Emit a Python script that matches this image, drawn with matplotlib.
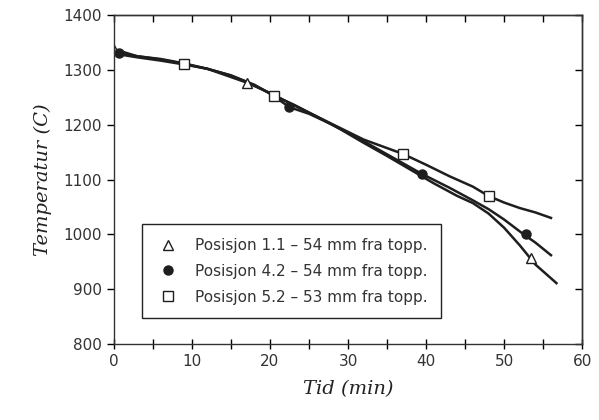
import matplotlib.pyplot as plt
from matplotlib.lines import Line2D

# Kurvedata
tid_11 = [0, 3, 6, 9, 12, 15, 17, 20, 23, 26, 29, 32, 35, 38, 41, 44, 46, 48, 50, 52, 54, 56.7]
temp_11 = [1338, 1325, 1320, 1312, 1302, 1287, 1277, 1258, 1236, 1215, 1192, 1167, 1143, 1118, 1093, 1070, 1057, 1038, 1012, 980, 945, 911]

tid_42 = [0, 3, 6, 9, 12, 15, 18, 20, 22.5, 25, 28, 32, 35, 39.5, 43, 46, 48, 50, 52.5, 54, 56]
temp_42 = [1332, 1325, 1319, 1311, 1302, 1290, 1272, 1257, 1232, 1220, 1200, 1170, 1146, 1110, 1085, 1062, 1046, 1027, 1000, 985, 962]

tid_52 = [0, 3, 6, 9, 12, 15, 18, 20.5, 23, 26, 29, 32, 34.5, 37, 40, 43, 46, 48, 50, 52, 54, 56]
temp_52 = [1330, 1323, 1317, 1310, 1302, 1290, 1273, 1253, 1237, 1215, 1194, 1173, 1160, 1147, 1127, 1106, 1087, 1070, 1058, 1048, 1040, 1030]

# Markørpunkter
mk_tid_11 = [0, 17, 53.5]
mk_temp_11 = [1336, 1277, 957]
mk_tid_42 = [0.7, 22.5, 39.5, 52.8]
mk_temp_42 = [1330, 1232, 1110, 1000]
mk_tid_52 = [9, 20.5, 37, 48]
mk_temp_52 = [1310, 1253, 1147, 1070]

etiketter = ["Posisjon 1.1 – 54 mm fra topp.",
             "Posisjon 4.2 – 54 mm fra topp.",
             "Posisjon 5.2 – 53 mm fra topp."]

farge = '#1e1e1e'

fig = plt.figure(figsize=(5.99, 4.2), dpi=100)
ax = fig.add_axes([0.190, 0.181, 0.782, 0.783])

ax.plot(tid_11, temp_11, color=farge, lw=1.8)
ax.plot(tid_42, temp_42, color=farge, lw=1.8)
ax.plot(tid_52, temp_52, color=farge, lw=1.8)

ax.plot(mk_tid_11, mk_temp_11, '^', ms=6.5, mfc='white', mec=farge, mew=1.0, ls='none')
ax.plot(mk_tid_42, mk_temp_42, 'o', ms=6.5, mfc=farge, mec=farge, ls='none')
ax.plot(mk_tid_52, mk_temp_52, 's', ms=6.5, mfc='white', mec=farge, mew=1.0, ls='none')

ax.set_xlim(0, 60)
ax.set_ylim(800, 1400)
ax.set_xticks(range(0, 61, 10))
ax.set_xticks(range(0, 61, 5), minor=True)
ax.set_yticks(range(800, 1401, 100))

tikkfont = {'family': 'DejaVu Sans', 'size': 11}
ax.set_xticklabels([str(v) for v in range(0, 61, 10)], fontdict=tikkfont, color='#333333')
ax.set_yticklabels([str(v) for v in range(800, 1401, 100)], fontdict=tikkfont, color='#333333')

ax.tick_params(axis='x', which='both', direction='inout', length=7, width=1.0)
ax.tick_params(axis='y', which='both', direction='out', length=5, width=1.0)

# Innovervendte tikk oppe og til høyre
topp = ax.secondary_xaxis('top')
topp.set_xticks(range(0, 61, 5))
topp.tick_params(direction='in', length=5, width=1.0, labeltop=False)
hoyre = ax.secondary_yaxis('right')
hoyre.set_yticks(range(800, 1401, 100))
hoyre.tick_params(direction='in', length=5, width=1.0, labelright=False)
for a in (ax, topp, hoyre):
    for s in a.spines.values():
        s.set_linewidth(1.0)
        s.set_color('#333333')

ax.set_xlabel('Tid (min)', family='DejaVu Serif', style='italic', size=14, color='#222222', labelpad=8)
ax.set_ylabel('Temperatur (C)', family='DejaVu Serif', style='italic', size=14, color='#222222', labelpad=8)

handles = [Line2D([], [], marker='^', ls='none', ms=6.5, mfc='white', mec=farge),
           Line2D([], [], marker='o', ls='none', ms=6.5, mfc=farge, mec=farge),
           Line2D([], [], marker='s', ls='none', ms=6.5, mfc='white', mec=farge)]
leg = ax.legend(handles, etiketter, loc='lower left', bbox_to_anchor=(0.043, 0.055),
                frameon=True, fancybox=False, edgecolor='#222222', framealpha=1,
                prop={'family': 'DejaVu Sans', 'size': 11}, handletextpad=1.0,
                labelspacing=0.7, borderpad=0.9, handlelength=1.6)
leg.get_frame().set_linewidth(1.0)
for t in leg.get_texts():
    t.set_color('#333333')

fig.savefig('out.png', dpi=100)
